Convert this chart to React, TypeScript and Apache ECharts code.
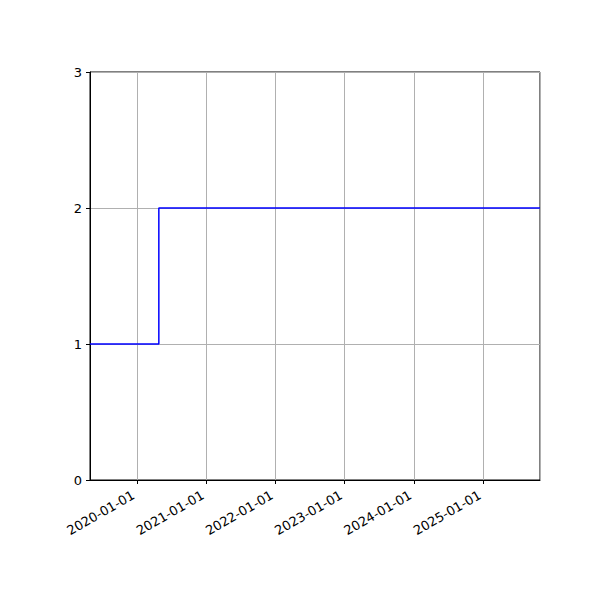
import React, { useEffect, useRef } from 'react';
import * as echarts from 'echarts';

// step series (drawn "post": value holds until the next date)
const dates = ['2019-04-29', '2020-04-26', '2025-10-27'];
const values = [1, 2, 2];

const yTicks = [0, 1, 2, 3];

const App = () => {
  const chartRef = useRef<HTMLDivElement>(null);

  useEffect(() => {
    const chart = echarts.init(chartRef.current, null, { renderer: 'svg' });
    const data = dates.map((d, i) => [new Date(d + 'T00:00:00Z').getTime(), values[i]]);
    const font = 'DejaVu Sans';

    const option = {
      animation: false,
      backgroundColor: '#ffffff',
      grid: {
        left: 90,
        right: 60,
        top: 72,
        bottom: 120,
        show: true,
        borderColor: '#000000',
        borderWidth: 1,
      },
      xAxis: {
        type: 'time',
        min: data[0][0],
        max: data[data.length - 1][0],
        minInterval: 365 * 86400000,
        maxInterval: 366 * 86400000,
        axisLine: { show: true, lineStyle: { color: '#000', width: 1 } },
        axisTick: { show: true, length: 4, inside: false, lineStyle: { color: '#000' } },
        axisLabel: {
          rotate: 30,
          color: '#000',
          fontFamily: font,
          fontSize: 13,
          margin: 12,
          padding: [0, 4, 0, 0],
          showMinLabel: false,
          showMaxLabel: false,
          formatter: '{yyyy}-{MM}-{dd}',
        },
        splitLine: { show: true, lineStyle: { color: '#b0b0b0', width: 1 } },
      },
      yAxis: {
        type: 'value',
        min: yTicks[0],
        max: yTicks[yTicks.length - 1],
        interval: 1,
        axisLine: { show: true, lineStyle: { color: '#000', width: 1 } },
        axisTick: { show: true, length: 4, lineStyle: { color: '#000' } },
        axisLabel: { color: '#000', fontFamily: font, fontSize: 13, margin: 8 },
        splitLine: { show: true, lineStyle: { color: '#b0b0b0', width: 1 } },
      },
      series: [
        {
          type: 'line',
          step: 'end',
          data,
          symbol: 'none',
          lineStyle: { color: '#0000ff', width: 1.5 },
        },
      ],
    };

    chart.setOption(option);
    return () => {
      chart.dispose();
    };
  }, []);

  return (
    <div
      ref={chartRef}
      style={{ position: 'absolute', left: 0, top: 0, width: '600px', height: '600px' }}
    />
  );
};

export default App;
